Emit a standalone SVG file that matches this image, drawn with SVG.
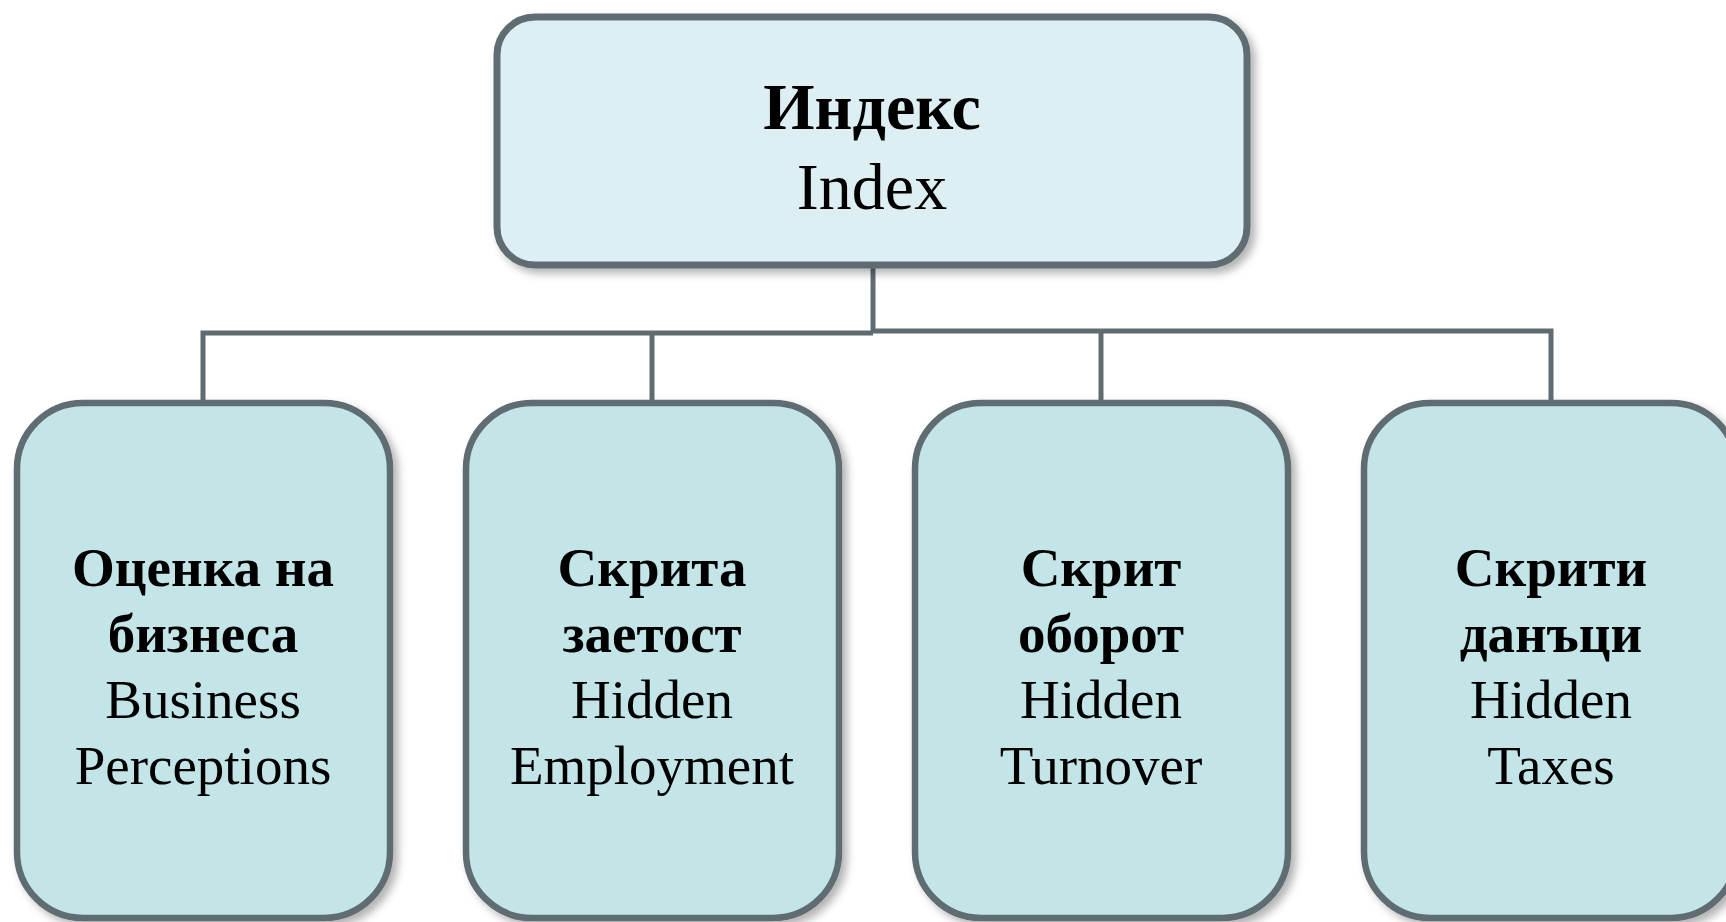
<svg xmlns="http://www.w3.org/2000/svg" width="1726" height="922" viewBox="0 0 1726 922">
<style>
.box{stroke:#5f6d72;stroke-width:6.5}
.top{fill:#ddeff3;stroke-width:7}
.child{fill:#c3e5e8}
.t{font-family:"Liberation Serif","Times New Roman",serif;text-anchor:middle;fill:#000}
.tt{font-size:66px}
.ct{font-size:55px}
.b{font-weight:bold}
.conn{fill:none;stroke:#5f6d72;stroke-width:5}
</style>
<defs>
<filter id="sh" x="-10%" y="-10%" width="125%" height="125%">
<feDropShadow dx="5" dy="5" stdDeviation="4" flood-color="#000" flood-opacity="0.3"/>
</filter>
</defs>
<rect width="1726" height="922" fill="#fff"/>
<g id="connectors">
<path class="conn" d="M873 266 V333"/>
<path class="conn" d="M203 401 V333 H873"/>
<path class="conn" d="M873 331 H1551 V401"/>
<path class="conn" d="M652 333 V401"/>
<path class="conn" d="M1101 331 V401"/>
</g>
<g id="index">
<rect class="box top" filter="url(#sh)" x="497" y="17" width="750" height="248" rx="38"/>
<text class="t tt b" x="872" y="129">Индекс</text>
<text class="t tt" x="872" y="209">Index</text>
</g>
<g id="business">
<rect class="box child" filter="url(#sh)" x="17" y="403" width="373" height="515" rx="66"/>
<text class="t ct b" x="203" y="586">Оценка на</text>
<text class="t ct b" x="203" y="652">бизнеса</text>
<text class="t ct" x="203" y="718">Business</text>
<text class="t ct" x="203" y="784">Perceptions</text>
</g>
<g id="employment">
<rect class="box child" filter="url(#sh)" x="466" y="403" width="373" height="515" rx="66"/>
<text class="t ct b" x="652" y="586">Скрита</text>
<text class="t ct b" x="652" y="652">заетост</text>
<text class="t ct" x="652" y="718">Hidden</text>
<text class="t ct" x="652" y="784">Employment</text>
</g>
<g id="turnover">
<rect class="box child" filter="url(#sh)" x="915" y="403" width="373" height="515" rx="66"/>
<text class="t ct b" x="1101" y="586">Скрит</text>
<text class="t ct b" x="1101" y="652">оборот</text>
<text class="t ct" x="1101" y="718">Hidden</text>
<text class="t ct" x="1101" y="784">Turnover</text>
</g>
<g id="taxes">
<rect class="box child" filter="url(#sh)" x="1364" y="403" width="373" height="515" rx="66"/>
<text class="t ct b" x="1551" y="586">Скрити</text>
<text class="t ct b" x="1551" y="652">данъци</text>
<text class="t ct" x="1551" y="718">Hidden</text>
<text class="t ct" x="1551" y="784">Taxes</text>
</g>
</svg>
